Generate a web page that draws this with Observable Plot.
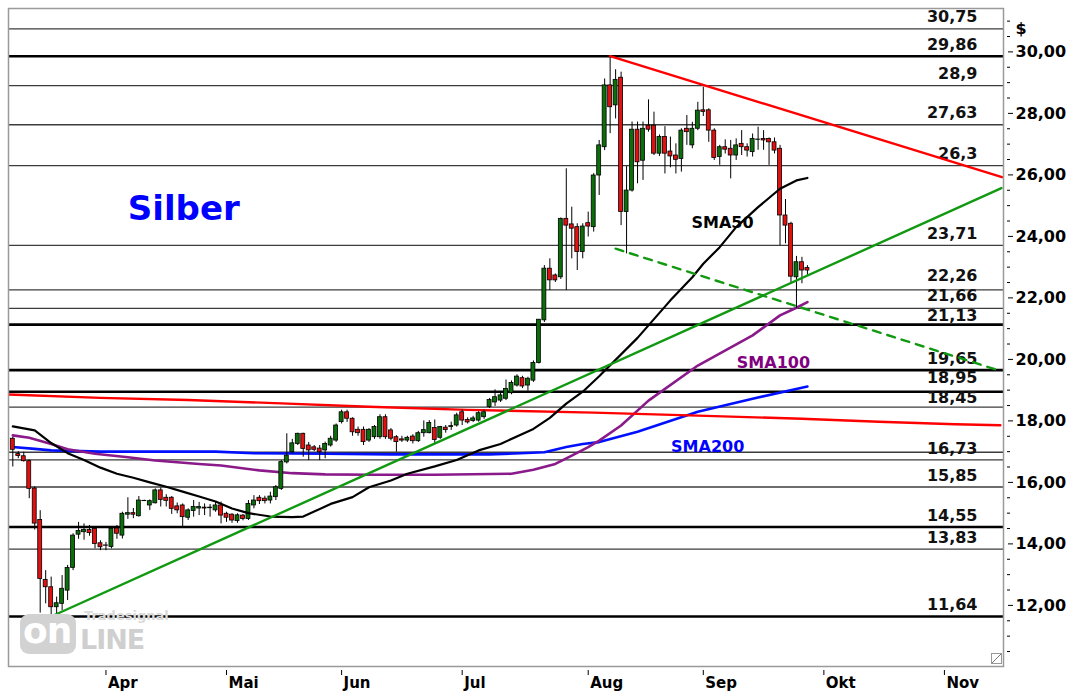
<!DOCTYPE html>
<html><head><meta charset="utf-8">
<script src="https://cdn.jsdelivr.net/npm/d3@7"></script>
<script src="https://cdn.jsdelivr.net/npm/@observablehq/plot@0.6"></script>
<style>
body{margin:0;background:#fff;font-family:"DejaVu Sans",Verdana,sans-serif;}
#wrap{position:relative;width:1068px;height:695px;overflow:hidden;}
#logo{position:absolute;left:20px;top:608px;width:150px;height:50px;pointer-events:none;}
#logo .box{position:absolute;left:0;top:6px;width:56px;height:40px;background:#d2d2d2;border-radius:9px;}
#logo .on{position:absolute;left:3px;top:2px;font:bold 36px "DejaVu Sans";color:#fff;letter-spacing:-1px;}
#logo .line{position:absolute;left:60px;top:16px;font:bold 27px "DejaVu Sans";color:#cfcfcf;letter-spacing:-1px;}
#logo .ts{position:absolute;left:64px;top:0;font:bold 13px "DejaVu Sans";color:#dadada;}
#grip{position:absolute;left:991px;top:653px;width:9px;height:9px;border:1px solid #999;background:linear-gradient(135deg,#fff 45%,#777 50%,#fff 55%);}
</style></head><body><div id="wrap"></div>
<script>
// ---- data (trading-day index 0 = 9 Mar 2020) ----
const open = [
17.42,16.92,16.85,16.69,15.80,14.78,12.83,12.59,11.94,12.05,
12.48,13.22,14.30,14.38,14.45,14.49,14.02,13.95,13.90,14.50,
14.27,14.95,15.00,14.90,15.39,15.25,15.32,15.74,15.50,15.50,
15.22,15.25,14.85,15.07,15.15,15.18,15.16,15.09,15.25,14.98,
14.95,14.74,14.92,14.81,15.25,15.50,15.47,15.41,15.52,15.79,
16.65,16.98,17.25,17.58,17.20,17.14,17.10,17.04,17.20,17.36,
17.96,18.28,18.07,17.71,17.71,17.36,17.47,17.47,18.12,17.69,
17.47,17.40,17.36,17.49,17.34,17.60,17.60,17.77,17.45,17.78,
17.80,17.85,18.28,18.03,18.00,18.01,18.12,18.45,18.60,18.66,
18.72,18.90,19.15,19.39,19.15,19.31,19.88,21.27,22.95,22.73,
22.67,24.57,24.39,24.30,23.49,24.43,24.30,25.98,26.90,28.91,
28.26,29.16,24.79,25.49,27.47,26.46,27.60,27.60,26.69,27.23,
26.76,26.63,26.52,27.50,26.96,27.50,28.10,28.10,27.44,26.58,
26.90,26.85,26.63,27.01,26.90,26.74,27.14,27.17,27.17,27.06,
26.85,24.68,24.41,22.67,23.16,22.97];
const high = [
17.47,17.00,16.98,16.73,15.85,15.08,13.13,12.92,12.27,12.97,
13.30,14.33,14.70,14.65,14.60,14.50,14.10,14.05,14.55,14.60,
15.03,15.50,15.15,15.54,15.42,15.43,15.79,15.82,15.60,15.54,
15.33,15.30,15.14,15.41,15.35,15.30,15.28,15.36,15.36,15.03,
14.98,14.98,14.96,15.41,15.57,15.57,15.55,15.68,15.90,16.71,
17.58,17.40,17.60,17.60,17.30,17.20,17.20,17.31,17.50,17.90,
18.35,18.35,18.10,17.80,17.80,17.75,17.85,18.20,18.20,17.75,
17.52,17.50,17.50,17.55,17.66,18.00,18.01,18.03,17.82,17.85,
17.96,18.25,18.36,18.10,18.15,18.30,18.35,18.73,19.01,18.90,
19.33,19.30,19.50,19.45,19.42,19.95,21.30,23.05,23.27,22.78,
24.60,26.20,24.95,24.41,24.41,24.79,26.04,27.12,29.12,29.86,
29.42,29.34,26.27,27.72,27.72,27.72,28.44,28.04,27.30,27.57,
27.23,27.01,27.50,27.93,27.71,28.36,28.85,28.15,27.50,26.96,
27.14,27.12,27.17,27.44,27.01,27.33,27.55,27.44,27.20,27.20,
26.96,25.20,24.46,23.35,23.32,23.05];
const low = [
16.50,16.77,16.66,15.47,14.45,11.75,12.05,11.64,11.70,11.83,
12.16,13.13,14.15,14.12,14.25,13.84,13.78,13.78,13.84,14.15,
14.16,14.80,14.82,14.87,15.38,15.09,15.30,15.20,15.20,14.96,
14.98,14.55,14.76,14.87,14.92,14.92,14.87,15.03,14.65,14.70,
14.67,14.67,14.75,14.76,15.14,15.28,15.30,15.30,15.41,15.74,
16.60,16.93,17.20,16.82,16.71,17.00,16.71,16.77,17.15,17.30,
17.90,17.95,17.50,17.50,17.20,17.30,17.40,17.40,17.40,17.35,
16.98,17.30,17.30,17.25,17.30,17.47,17.58,17.25,17.40,17.60,
17.69,17.80,17.85,17.90,17.95,17.96,18.05,18.40,18.47,18.60,
18.66,18.85,19.10,19.05,18.97,19.25,19.85,21.20,22.24,22.50,
22.60,22.24,23.27,22.89,23.27,23.98,24.14,25.33,26.79,27.34,
27.82,24.35,23.43,25.44,25.71,25.82,27.39,26.63,26.60,26.03,
26.23,26.03,26.09,26.96,26.85,27.44,27.90,27.06,26.47,26.31,
26.68,25.87,26.47,26.63,26.58,26.58,26.80,26.80,26.31,26.68,
23.70,23.76,22.50,21.66,22.46,22.73];
const close = [
17.06,16.86,16.69,15.79,14.66,12.86,12.59,11.94,12.07,12.54,
13.22,14.27,14.42,14.45,14.35,14.00,13.89,13.94,14.49,14.33,
14.98,15.00,14.95,15.41,15.40,15.39,15.74,15.43,15.40,15.14,
15.09,14.87,15.09,15.20,15.20,15.15,15.18,15.25,14.92,14.85,
14.76,14.93,14.81,15.30,15.41,15.39,15.39,15.54,15.84,16.66,
16.87,17.27,17.58,17.09,17.04,17.06,16.98,17.25,17.42,17.85,
18.28,18.07,17.63,17.60,17.31,17.71,17.80,18.12,17.47,17.42,
17.31,17.36,17.45,17.34,17.60,17.70,17.93,17.38,17.80,17.70,
17.83,18.18,18.01,17.95,18.08,18.25,18.28,18.68,18.77,18.83,
19.04,19.23,19.44,19.12,19.37,19.88,21.29,22.95,22.57,22.57,
24.57,24.35,24.25,23.49,24.32,24.32,25.98,26.96,28.91,28.20,
29.09,24.79,25.49,27.47,26.41,27.50,27.47,26.69,27.23,26.69,
26.60,26.49,27.44,27.39,27.50,28.09,28.05,27.44,26.55,26.90,
26.82,26.63,26.96,26.90,26.79,27.17,27.15,27.12,27.06,26.79,
24.68,24.35,22.69,23.16,22.89,22.89];

// moving averages (day index, value)
const sma50Day = [0,4,7,10,13,16,19,22,25,28,31,34,37,40,43,47,51,53,55,58,62,65,69,72,77,81,85,89,95,98,101,104,107,114,120,124,126,129,132,136,140,143,145];
const sma50Val = [17.82,17.69,17.28,16.95,16.73,16.48,16.28,16.15,16.0,15.86,15.7,15.54,15.38,15.15,15.0,14.89,14.87,14.89,15.05,15.3,15.52,15.84,16.06,16.28,16.52,16.73,17.04,17.25,17.74,18.1,18.56,18.95,19.45,20.7,21.92,22.67,23.11,23.65,24.3,24.95,25.55,25.82,25.9];
const sma100Day = [0,3,7,10,15,21,26,34,38,45,51,57,65,77,91,95,99,102,105,107,111,116,125,135,140,143,145];
const sma100Val = [17.53,17.45,17.25,17.08,16.93,16.82,16.71,16.6,16.55,16.39,16.3,16.26,16.25,16.25,16.28,16.41,16.6,16.87,17.15,17.36,17.85,18.66,19.8,20.78,21.43,21.68,21.86];
const sma200Day = [0,4,7,16,37,44,57,69,87,97,101,104,107,114,125,135,145];
const sma200Val = [17.15,17.09,17.04,17.0,17.0,16.95,16.93,16.91,16.91,16.98,17.15,17.25,17.31,17.65,18.3,18.72,19.12];

// trend lines (day index, value)
const redLowDay = [-0.8,16,32,49,65,83,106,125,144,158,172,180.2];
const redLowVal = [18.86,18.75,18.68,18.57,18.46,18.36,18.27,18.17,18.07,17.97,17.89,17.86];
const redTopDay = [109,180.5];  const redTopVal = [29.86,25.93];
const greenDay = [7,180.4];     const greenVal = [11.64,25.57];
const greenDashDay = [110,180.3]; const greenDashVal = [23.6,19.62];

// horizontal levels
const levels = [30.75,29.86,28.9,27.63,26.3,23.71,22.26,21.66,21.13,19.65,18.95,18.45,16.73,15.85,14.55,13.83,11.64];
const levelLabels = ["30,75","29,86","28,9","27,63","26,3","23,71","22,26","21,66","21,13","19,65","18,95","18,45","16,73","15,85","14,55","13,83","11,64"];
const levelBold = [false,true,false,false,false,false,false,false,true,true,true,false,false,false,true,false,true];
const extraLevels = [16.98];

// axes
const monthDay = [17,39,60,82,105,126,148,170];
const monthLabels = ["Apr","Mai","Jun","Jul","Aug","Sep","Okt","Nov"];
const yTicks = [12,14,16,18,20,22,24,26,28,30];

// annotations
const notes = [
  {text:"Silber", day:31.2, value:24.9, color:"#0000ff", size:34},
  {text:"SMA50", day:129.5, value:24.45, color:"#000000", size:16},
  {text:"SMA100", day:138.8, value:19.9, color:"#800080", size:16},
  {text:"SMA200", day:126.8, value:17.16, color:"#0000ff", size:16}
];

// ---- build ----
const candles = open.map((o,i)=>({i, open:o, high:high[i], low:low[i], close:close[i]}));
const pts = (days, vals) => days.map((d,k)=>({day:d, value:vals[k]}));
const levelRows = levels.map((v,k)=>({value:v, label:levelLabels[k], bold:levelBold[k]}));
const GREEN = "#0a6e0a", RED = "#e31010";
const fmt = d => d.toFixed(2).replace(".", ",");
// tight groups of level labels: nudge apart so they don't collide
const labelShift = {"22,26": -3, "21,66": -0.5, "21,13": 2.5, "18,95": -2, "18,45": 2.5};

const chart = Plot.plot({
  width: 1068, height: 695,
  marginLeft: 8, marginRight: 65, marginTop: 8, marginBottom: 29,
  style: {fontFamily: "'DejaVu Sans', Verdana, sans-serif", fontSize: "16px", fontWeight: "bold", background: "#fff", color: "#000"},
  x: {type: "linear", domain: [-0.785, 180.78], axis: null},
  y: {type: "linear", domain: [10.013, 31.411], axis: null},
  marks: [
    Plot.ruleY(levelRows.filter(d=>!d.bold), {y:"value", stroke:"#3c3c3c", strokeWidth:1.3}),
    Plot.ruleY(extraLevels, {y: d=>d, stroke:"#3c3c3c", strokeWidth:1.3}),
    Plot.ruleY(levelRows.filter(d=>d.bold), {y:"value", stroke:"#000", strokeWidth:2.6}),
    ...levelRows.map(r => Plot.text([r], {y:"value", text:"label", frameAnchor:"right", dx:-26, dy:-11.5 + (labelShift[r.label] || 0), textAnchor:"end", fontSize:16, fontWeight:"bold", fill:"#111"})),
    // moving averages & trend lines
    Plot.line(pts(sma200Day, sma200Val), {x:"day", y:"value", stroke:"#0010ff", strokeWidth:2.6}),
    Plot.line(pts(sma100Day, sma100Val), {x:"day", y:"value", stroke:"#8a1a8a", strokeWidth:2.6}),
    Plot.line(pts(redLowDay, redLowVal), {x:"day", y:"value", stroke:"#ff0000", strokeWidth:2.4, clip:true}),
    // candles
    Plot.ruleX(candles, {x:"i", y1:"low", y2:"high", stroke:"#000", strokeWidth:1}),
    Plot.rect(candles, {x1: d=>d.i-0.36, x2: d=>d.i+0.36, y1:"open", y2:"close",
      fill: d => d.close >= d.open ? GREEN : RED, stroke:"#000", strokeWidth:0.8}),
    Plot.line(pts(sma50Day, sma50Val), {x:"day", y:"value", stroke:"#000", strokeWidth:2.2}),
    Plot.line(pts(redTopDay, redTopVal), {x:"day", y:"value", stroke:"#ff0000", strokeWidth:2.4, clip:true}),
    Plot.line(pts(greenDay, greenVal), {x:"day", y:"value", stroke:"#119911", strokeWidth:2.4, clip:true}),
    Plot.line(pts(greenDashDay, greenDashVal), {x:"day", y:"value", stroke:"#119911", strokeWidth:2.4, strokeDasharray:"8,7", clip:true}),
    // annotations
    Plot.text(notes, {x:"day", y:"value", text:"text", fill:"color", fontSize:"size", fontWeight:"bold"}),
    // frame
    Plot.frame({stroke:"#9a9a9a", strokeWidth:1.5}),
    // y axis (right)
    Plot.axisY(d3.range(10.5, 31.01, 0.5).filter(v => v % 2 !== 0), {anchor:"right", tickSize:3, dx:3, tickFormat: () => "", stroke:"#000"}),
    Plot.axisY(yTicks, {anchor:"right", tickSize:5, dx:4, tickPadding:3, tickFormat: fmt, fontSize:16, fontWeight:"bold", stroke:"#000", fill:"#000", label:null}),
    Plot.text(["$"], {frameAnchor:"top-right", dx:12, dy:14, textAnchor:"start", fontSize:16, fontWeight:"bold", fill:"#000"}),
    // x axis (months)
    Plot.axisX(monthDay, {tickSize:5, dy:4, tickFormat: () => "", stroke:"#000", label:null}),
    Plot.axisX(monthDay, {tickSize:0, tickPadding:11, dx:2, textAnchor:"start", tickFormat: d => monthLabels[monthDay.indexOf(d)], fontSize:15, fontWeight:"bold", fill:"#000", label:null})
  ]
});
const wrap = document.getElementById("wrap");
wrap.appendChild(chart);
wrap.insertAdjacentHTML("beforeend", '<div id="logo"><div class="box"></div><span class="on">on</span><span class="ts">Tradesignal</span><span class="line">LINE</span></div><div id="grip"></div>');
</script>
</body></html>
